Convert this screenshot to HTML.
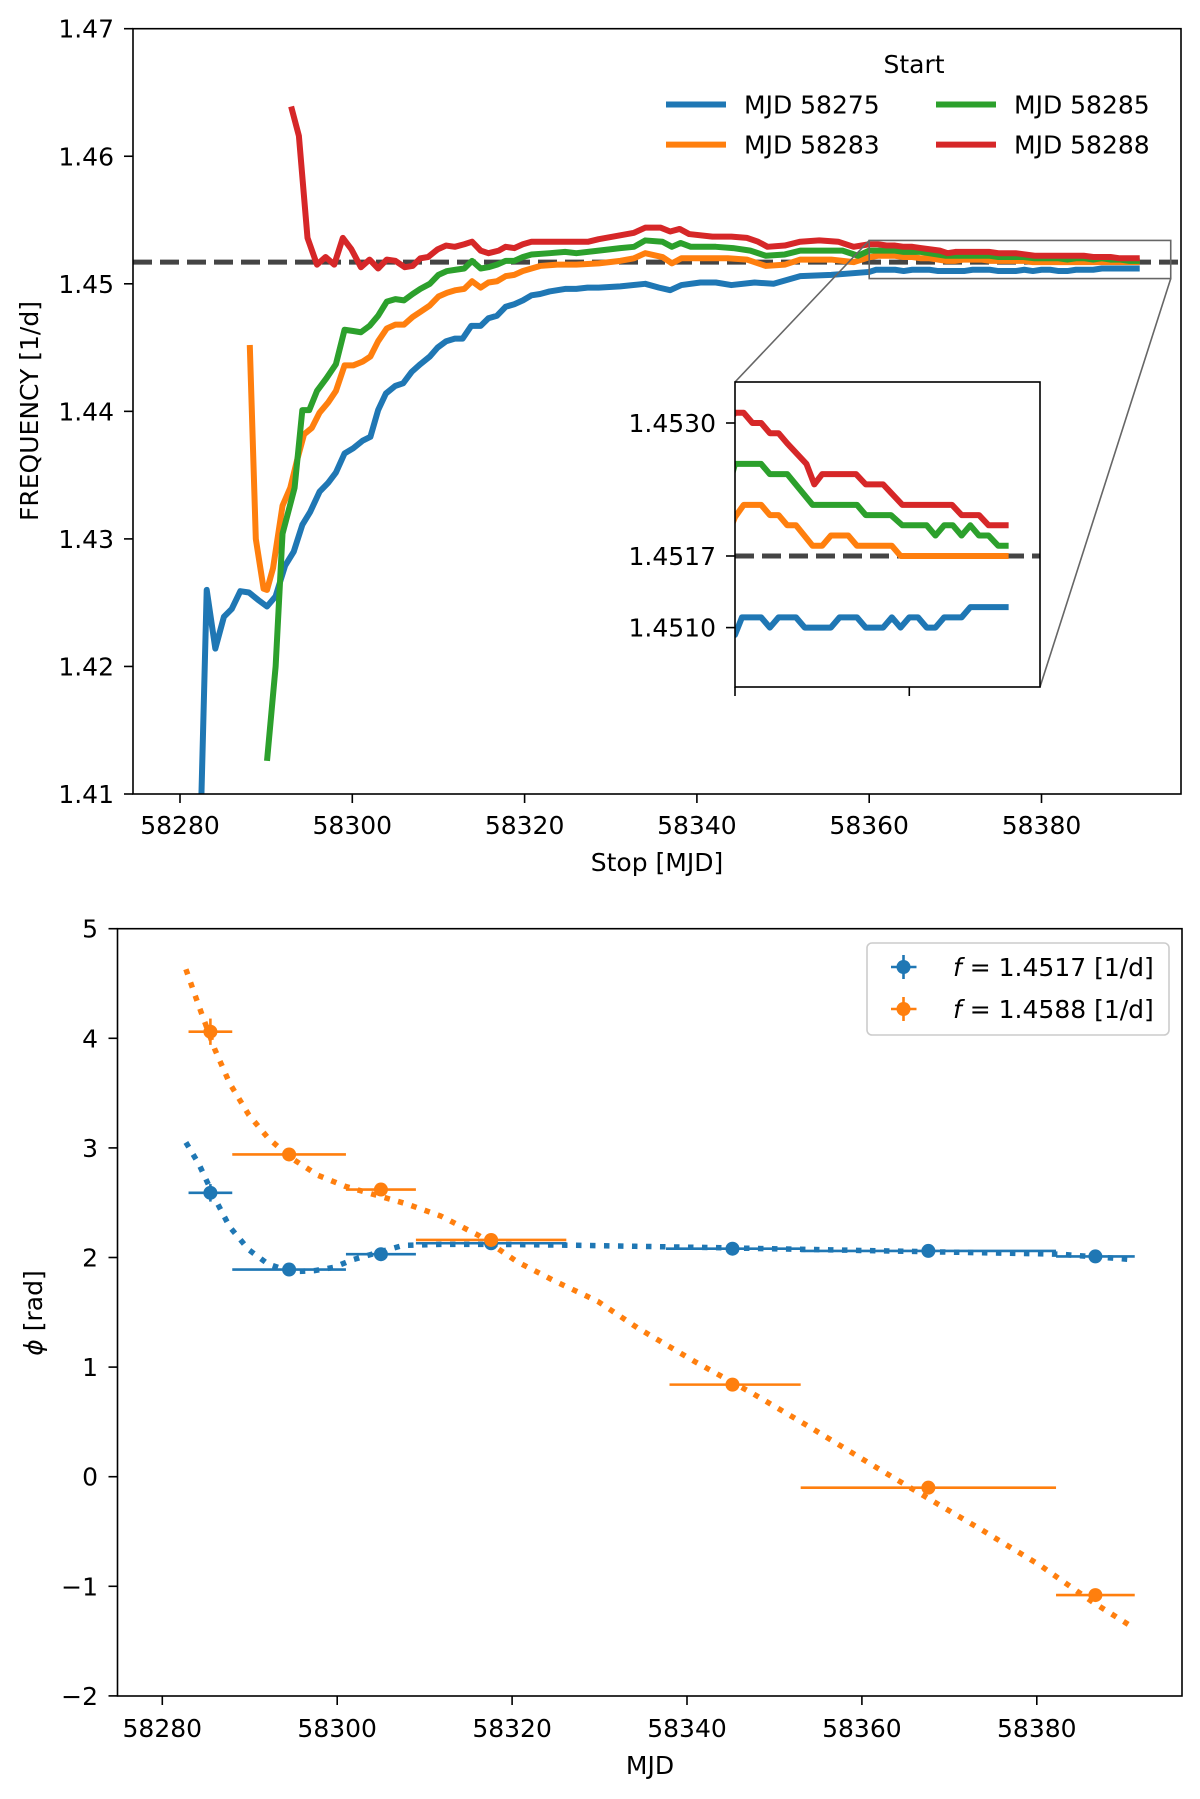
<!DOCTYPE html>
<html><head><meta charset="utf-8"><style>
html,body{margin:0;padding:0;background:#fff;width:1200px;height:1799px;overflow:hidden;}
svg{display:block;font-family:"DejaVu Sans","Liberation Sans",sans-serif;}
</style></head><body>
<svg id="fig" width="1200" height="1799" viewBox="0 0 1200 1799" xmlns="http://www.w3.org/2000/svg">
<defs>
<clipPath id="clipTop"><rect x="133" y="28.7" width="1048" height="765.3"/></clipPath>
<clipPath id="clipInset"><rect x="735" y="382" width="305" height="305"/></clipPath>
<clipPath id="clipBot"><rect x="117.5" y="928.7" width="1064.5" height="767.3"/></clipPath>
</defs>
<g id="topPanel"></g>
<g id="botPanel"></g>
</svg>
<script>
// ---------- Top panel data ----------
const blueStop=[58282.3,58283.1,58284.1,58285.1,58286,58287,58288,58289.1,58290.1,58291.1,58292.2,58293.2,58294.2,58295.1,58296.2,58297.2,58298.1,58299.1,58300.1,58301.2,58302.1,58303,58303.9,58305,58305.9,58306.9,58307.9,58309,58309.9,58310.9,58311.9,58312.8,58313.8,58314.9,58315.8,58316.8,58317.8,58318.8,58319.8,58320.8,58321.8,58322.9,58323.8,58324.7,58326,58327.3,58328.6,58331.1,58334,58335.6,58336.9,58338.2,58340.4,58342.2,58344,58346.7,58348.9,58352,58355.6,58360,58360.8,58363,58364,58365,58367,58368,58371,58372,58374,58375,58377,58378,58379,58380,58381,58382,58383,58384,58386,58387,58391.4];
const blueFreq=[1.405,1.4260,1.4214,1.4239,1.4245,1.4259,1.4258,1.4252,1.4247,1.4255,1.4279,1.4290,1.4311,1.4321,1.4337,1.4344,1.4352,1.4367,1.4371,1.4377,1.4380,1.4401,1.4414,1.4420,1.4422,1.4431,1.4437,1.4443,1.4450,1.4455,1.4457,1.4457,1.4467,1.4467,1.4473,1.4475,1.4482,1.4484,1.4487,1.4491,1.4492,1.4494,1.4495,1.4496,1.4496,1.4497,1.4497,1.4498,1.4500,1.4497,1.4495,1.4499,1.4501,1.4501,1.4499,1.4501,1.4500,1.4506,1.4507,1.45093,1.4511,1.4511,1.4510,1.4511,1.4511,1.4510,1.4510,1.4511,1.4511,1.4510,1.4510,1.4511,1.4510,1.4511,1.4511,1.4510,1.4510,1.4511,1.4511,1.4512,1.4512];
const orangeStop=[58288.1,58288.8,58289.7,58290.1,58290.8,58291.9,58292.8,58293.6,58294.4,58295.3,58296.2,58297.2,58298.1,58299.1,58300.1,58301.2,58302.1,58303,58304,58305,58306,58307,58307.9,58309,58310,58311,58312,58313,58313.9,58314.9,58315.8,58316.8,58317.8,58318.8,58319.8,58320.8,58321.8,58323.8,58326,58328.6,58331.1,58332.7,58334,58336,58337.1,58338.2,58340.4,58343.6,58345.8,58348,58350.2,58352,58355.6,58358.2,58360,58361,58363,58364,58365,58366,58367,58368.9,58370,58371,58373,58374,58378,58379,58391.4];
const orangeFreq=[1.4452,1.4300,1.4261,1.4260,1.4277,1.4326,1.4340,1.4362,1.4382,1.4387,1.4399,1.4407,1.4416,1.4436,1.4436,1.4439,1.4443,1.4455,1.4465,1.4468,1.4468,1.4474,1.4478,1.4483,1.4490,1.4493,1.4495,1.4496,1.4502,1.4497,1.4501,1.4502,1.4506,1.4507,1.4510,1.4512,1.4514,1.4515,1.4515,1.4516,1.4518,1.4520,1.4524,1.4521,1.4516,1.4520,1.4520,1.4520,1.4519,1.4514,1.4515,1.4519,1.4519,1.4517,1.45208,1.4522,1.4522,1.4521,1.4521,1.4520,1.4520,1.4518,1.4518,1.4519,1.4519,1.4518,1.4518,1.4517,1.4517];
const greenStop=[58290.1,58291.1,58291.9,58293.3,58294.2,58295,58295.9,58297,58298.1,58299.1,58300.1,58301,58302,58303,58304,58305,58306,58307,58307.9,58309,58310,58311,58312,58313,58313.9,58314.9,58315.8,58316.8,58317.8,58318.8,58319.8,58320.8,58322.9,58324.7,58326,58328.6,58331.1,58332.7,58334,58336,58337.1,58338.1,58339.3,58342.2,58344.2,58346.2,58348,58350.2,58352,58354.7,58356.9,58358.7,58360,58363,58364,58366,58368.9,58374,58375,58377.9,58379.2,58382,58383,58384,58385,58386,58387,58388,58389.1,58390.2,58391.4];
const greenFreq=[1.4126,1.4200,1.4304,1.4340,1.4401,1.4401,1.4416,1.4426,1.4437,1.4464,1.4463,1.4462,1.4467,1.4475,1.4486,1.4488,1.4487,1.4492,1.4496,1.4500,1.4507,1.4510,1.4511,1.4512,1.4518,1.4512,1.4513,1.4515,1.4518,1.4518,1.4521,1.4523,1.4524,1.4525,1.4524,1.4526,1.4528,1.4529,1.4534,1.4533,1.4529,1.4532,1.4529,1.4529,1.4528,1.4526,1.4522,1.4523,1.4526,1.4526,1.4526,1.4522,1.4526,1.4526,1.4525,1.4525,1.4522,1.4522,1.4521,1.4521,1.4520,1.4520,1.4519,1.4520,1.4520,1.4519,1.4520,1.4519,1.4519,1.4518,1.4518];
const redStop=[58292.9,58293.8,58294.8,58295.9,58296.9,58297.9,58298.9,58299.9,58301,58302,58303,58304,58305,58306.1,58307,58307.9,58308.8,58309.9,58310.9,58311.9,58313,58313.9,58314.9,58315.8,58317,58317.8,58318.8,58319.8,58320.8,58321.8,58322.9,58324.7,58325.6,58327.4,58328.6,58331.1,58332.7,58334,58335.8,58336.9,58338,58339.1,58341.8,58344,58345.8,58347.1,58348.2,58350.2,58352,58354.2,58356.4,58358.2,58360,58361,58362,58363,58364,58365,58366,58368.2,58369.1,58370,58373.9,58375,58377,58379.2,58384.9,58386,58388,58389.1,58391.4];
const redFreq=[1.4639,1.4616,1.4536,1.4515,1.4521,1.4515,1.4536,1.4527,1.4513,1.4519,1.4512,1.4519,1.4518,1.4513,1.4514,1.4520,1.4521,1.4527,1.4530,1.4529,1.4531,1.4533,1.4526,1.4524,1.4526,1.4529,1.4528,1.4531,1.4533,1.4533,1.4533,1.4533,1.4533,1.4533,1.4535,1.4538,1.4540,1.4544,1.4544,1.4541,1.4543,1.4539,1.4537,1.4537,1.4536,1.4533,1.4529,1.4530,1.4533,1.4534,1.4533,1.4529,1.4531,1.4531,1.4530,1.4530,1.4529,1.4529,1.4528,1.4526,1.4524,1.4525,1.4525,1.4524,1.4524,1.4522,1.4522,1.4521,1.4521,1.4520,1.4520];
const topXTicks=[58280,58300,58320,58340,58360,58380];
const topYTicks=[1.41,1.42,1.43,1.44,1.45,1.46,1.47];
const refFreq=1.4517;
const insetYTicks=[1.4510,1.4517,1.4530];
const insetXTicks=[58360,58380];
const legendLabels=["MJD 58275","MJD 58283","MJD 58285","MJD 58288"];

// ---------- Bottom panel data ----------
const binMid=[58285.5,58294.5,58305.0,58317.6,58345.2,58367.6,58386.7];
const binLo=[58283.0,58288.0,58301.0,58309.0,58337.6,58353.0,58382.2];
const binHi=[58288.0,58301.0,58309.0,58326.2,58353.0,58382.2,58391.2];
const phaseBlue=[2.59,1.89,2.03,2.13,2.08,2.06,2.01];
const phaseOrange=[4.06,2.94,2.62,2.16,0.84,-0.10,-1.08];
const orangeBinLo=[58283.0,58288.0,58301.0,58309.0,58338.0,58353.0,58382.2];
const errBlue=[0.08,0.03,0.03,0.03,0.02,0.02,0.02];
const errOrange=[0.12,0.04,0.04,0.04,0.03,0.03,0.03];
const fitT=[58282.7,58284.2,58286,58287.7,58289.9,58292.1,58294.7,58297.4,58299.6,58301.8,58304.4,58307.5,58311.8,58318.4,58328.5,58343.1,58356.3,58369.4,58382.6,58391.1];
const fitBlue=[3.05,2.85,2.54,2.28,2.07,1.94,1.87,1.88,1.91,1.98,2.04,2.11,2.12,2.12,2.11,2.09,2.07,2.05,2.03,1.98];
const fitT2=[58282.7,58284.2,58286,58287.7,58289.9,58292.1,58294.7,58297.8,58300.9,58304.4,58307.9,58311.8,58316.2,58320.6,58325,58329.8,58334.3,58340.9,58347.5,58354.1,58360.7,58367.2,58373.8,58380.4,58386.5,58391.1];
const fitOrange=[4.63,4.29,3.90,3.59,3.30,3.09,2.91,2.75,2.65,2.57,2.49,2.38,2.20,1.96,1.78,1.60,1.36,1.05,0.76,0.45,0.13,-0.18,-0.49,-0.81,-1.15,-1.38];
const botXTicks=[58280,58300,58320,58340,58360,58380];
const botYTicks=[-2,-1,0,1,2,3,4,5];

const NS="http://www.w3.org/2000/svg";
const C={blue:"#1f77b4",orange:"#ff7f0e",green:"#2ca02c",red:"#d62728"};
function mk(tag,attrs,parent){const el=document.createElementNS(NS,tag);for(const k in attrs)el.setAttribute(k,attrs[k]);parent.appendChild(el);return el;}
function pathD(xs,ys,fx,fy){return xs.map((d,i)=>(i?"L":"M")+fx(d).toFixed(2)+","+fy(ys[i]).toFixed(2)).join("");}

// ---------- Top panel ----------
const topG=document.getElementById("topPanel");
const tx=d=>180+(d-58280)*8.615;
const ty=v=>28.7+(1.47-v)*12755;
const L=133,R=1181,T=28.7,B=794;
let g=mk("g",{"clip-path":"url(#clipTop)"},topG);


let e=mk("line",{x1:L,x2:R,y1:ty(refFreq),y2:ty(refFreq),stroke:"#444","stroke-width":5,"stroke-dasharray":"19 8"},g);


const series=[["blue",blueStop,blueFreq,"series-mjd-58275"],["orange",orangeStop,orangeFreq,"series-mjd-58283"],["green",greenStop,greenFreq,"series-mjd-58285"],["red",redStop,redFreq,"series-mjd-58288"]];
series.forEach(s=>{const p=mk("path",{d:pathD(s[1],s[2],tx,ty),fill:"none",stroke:C[s[0]],"stroke-width":6,"stroke-linejoin":"round"},g);
 
 });
e=mk("rect",{x:tx(58360),y:ty(1.4534),width:tx(58395)-tx(58360),height:ty(1.45041)-ty(1.4534),fill:"none",stroke:"#666","stroke-width":1.6},topG);


e=mk("line",{x1:tx(58360),y1:ty(1.4534),x2:735,y2:382,stroke:"#666","stroke-width":1.6},topG);


e=mk("line",{x1:tx(58395),y1:ty(1.45041),x2:1040,y2:687,stroke:"#666","stroke-width":1.6},topG);


e=mk("rect",{x:L,y:T,width:R-L,height:B-T,fill:"none",stroke:"#000","stroke-width":1.6},topG);


topXTicks.forEach(v=>{const x=tx(v);
 let t=mk("line",{x1:x,x2:x,y1:B,y2:B+9,stroke:"#000","stroke-width":1.6},topG);
 
 
 let s=mk("text",{x:x,y:834,"text-anchor":"middle","font-size":25},topG);s.textContent=v;
 
 });
topYTicks.forEach(v=>{const y=ty(v);
 let t=mk("line",{x1:L-9,x2:L,y1:y,y2:y,stroke:"#000","stroke-width":1.6},topG);
 
 
 let s=mk("text",{x:114,y:y+9,"text-anchor":"end","font-size":25},topG);s.textContent=v.toFixed(2);
 
 });
e=mk("text",{x:657,y:871,"text-anchor":"middle","font-size":25},topG);e.textContent="Stop [MJD]";


e=mk("text",{x:0,y:0,"text-anchor":"middle","font-size":25,transform:"translate(38,411) rotate(-90)"},topG);e.textContent="FREQUENCY [1/d]";


e=mk("text",{x:914,y:73,"text-anchor":"middle","font-size":25},topG);e.textContent="Start";


const legPos=[[666,104.5],[666,144.6],[936,104.5],[936,144.6]];
["blue","orange","green","red"].forEach((c,i)=>{const p=legPos[i];
 let l=mk("line",{x1:p[0],x2:p[0]+60,y1:p[1],y2:p[1],stroke:C[c],"stroke-width":6},topG);
 
 
 let s=mk("text",{x:p[0]+78,y:p[1]+9,"font-size":25},topG);s.textContent=legendLabels[i];
 
 });
// inset
const ix=d=>735+(d-58360)*(305/35);
const iy=v=>423+(1.4530-v)*102300;
e=mk("rect",{x:735,y:382,width:305,height:305,fill:"#fff"},topG);


let gi=mk("g",{"clip-path":"url(#clipInset)"},topG);


e=mk("line",{x1:735,x2:1040,y1:iy(refFreq),y2:iy(refFreq),stroke:"#444","stroke-width":5,"stroke-dasharray":"19 8"},gi);


series.forEach(s=>{const p=mk("path",{d:pathD(s[1],s[2],ix,iy),fill:"none",stroke:C[s[0]],"stroke-width":6,"stroke-linejoin":"round"},gi);
 
 });
e=mk("rect",{x:735,y:382,width:305,height:305,fill:"none",stroke:"#000","stroke-width":1.6},topG);


insetYTicks.forEach(v=>{const y=iy(v);
 let t=mk("line",{x1:726,x2:735,y1:y,y2:y,stroke:"#000","stroke-width":1.6},topG);
 
 
 let s=mk("text",{x:716,y:y+9,"text-anchor":"end","font-size":25},topG);s.textContent=v.toFixed(4);
 
 });
insetXTicks.forEach(v=>{const x=ix(v);
 let t=mk("line",{x1:x,x2:x,y1:687,y2:696,stroke:"#000","stroke-width":1.6},topG);
 
 });

// ---------- Bottom panel ----------
const botG=document.getElementById("botPanel");
const bx=d=>162.3+(d-58280)*8.745;
const by=v=>928.7+(5-v)*109.6;
const BL=117.5,BR=1182,BT=928.7,BB=1696;
let gb=mk("g",{"clip-path":"url(#clipBot)"},botG);


e=mk("path",{d:pathD(fitT,fitBlue,bx,by),fill:"none",stroke:C.blue,"stroke-width":5.5,"stroke-dasharray":"5.5 8.5"},gb);


e=mk("path",{d:pathD(fitT2,fitOrange,bx,by),fill:"none",stroke:C.orange,"stroke-width":5.5,"stroke-dasharray":"5.5 8.5"},gb);


function errSeries(vals,errs,lo,col,name){
 vals.forEach((v,i)=>{const y=by(v),x=bx(binMid[i]);
  let h=mk("line",{x1:bx(lo[i]),x2:bx(binHi[i]),y1:y,y2:y,stroke:col,"stroke-width":2.6},gb);
  
  
  let vv=mk("line",{x1:x,x2:x,y1:by(v+errs[i]),y2:by(v-errs[i]),stroke:col,"stroke-width":2.6},gb);
  
  
  let c=mk("circle",{cx:x,cy:y,r:7,fill:col},gb);
  
  });}
errSeries(phaseBlue,errBlue,binLo,C.blue,"phase-1-4517");
errSeries(phaseOrange,errOrange,orangeBinLo,C.orange,"phase-1-4588");
e=mk("rect",{x:BL,y:BT,width:BR-BL,height:BB-BT,fill:"none",stroke:"#000","stroke-width":1.6},botG);


botXTicks.forEach(v=>{const x=bx(v);
 let t=mk("line",{x1:x,x2:x,y1:BB,y2:BB+9,stroke:"#000","stroke-width":1.6},botG);
 
 
 let s=mk("text",{x:x,y:1737,"text-anchor":"middle","font-size":25},botG);s.textContent=v;
 
 });
botYTicks.forEach(v=>{const y=by(v);
 let t=mk("line",{x1:BL-9,x2:BL,y1:y,y2:y,stroke:"#000","stroke-width":1.6},botG);
 
 
 let s=mk("text",{x:98,y:y+9,"text-anchor":"end","font-size":25},botG);s.textContent=v<0?"\u2212"+Math.abs(v):String(v);
 
 });
e=mk("text",{x:650,y:1774,"text-anchor":"middle","font-size":25},botG);e.textContent="MJD";


e=mk("text",{x:0,y:0,"text-anchor":"middle","font-size":25,transform:"translate(42,1313) rotate(-90)"},botG);
let ts=mk("tspan",{"font-style":"italic"},e);ts.textContent="ϕ";
let ts2=mk("tspan",{},e);ts2.textContent=" [rad]";


e=mk("rect",{x:867,y:943,width:302,height:92,rx:5,fill:"#fff",stroke:"#ccc","stroke-width":1.6},botG);


[["blue","1.4517",967],["orange","1.4588",1009]].forEach(r=>{const col=C[r[0]],y=r[2];
 let l=mk("line",{x1:891,x2:916.5,y1:y,y2:y,stroke:col,"stroke-width":2.6},botG);
 
 
 let l2=mk("line",{x1:903.5,x2:903.5,y1:y-12,y2:y+12,stroke:col,"stroke-width":2.6},botG);
 
 
 let c=mk("circle",{cx:903.5,cy:y,r:7,fill:col},botG);
 
 
 let s=mk("text",{x:953,y:y+9,"font-size":25},botG);
 let a=mk("tspan",{"font-style":"italic"},s);a.textContent="f";
 let b2=mk("tspan",{},s);b2.textContent=" = "+r[1]+" [1/d]";
 
 });
</script>
</body></html>
